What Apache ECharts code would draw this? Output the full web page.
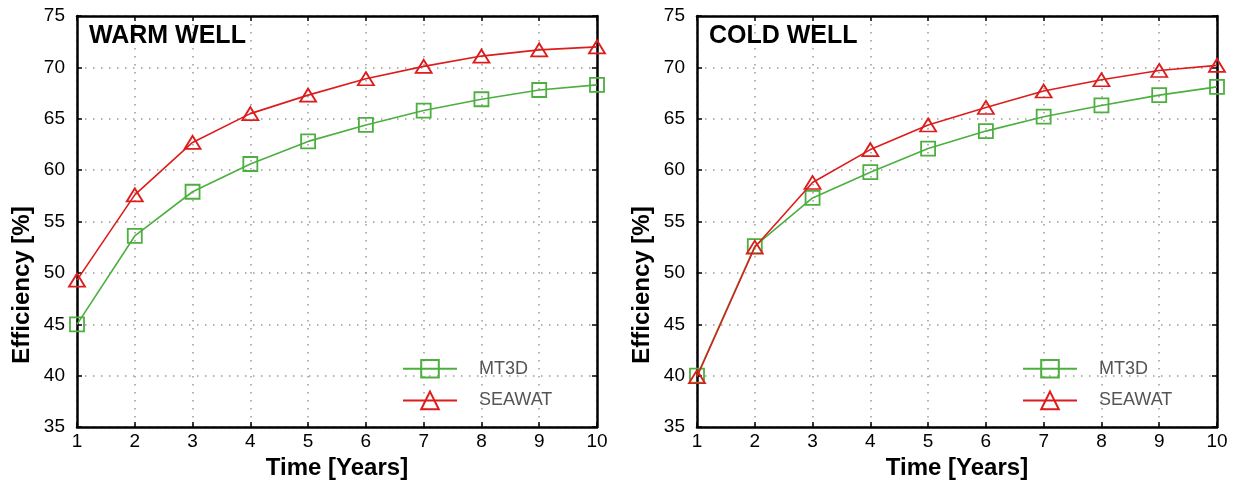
<!DOCTYPE html>
<html>
<head>
<meta charset="utf-8">
<script src="https://cdn.jsdelivr.net/npm/echarts@6/dist/echarts.min.js"></script>
<style>
    html, body { margin: 0; padding: 0; background: #fff; }
    #chart { width: 1234px; height: 485px; }
</style>
</head>
<body>
<div id="chart"></div>
<script>
// data
const years = [1, 2, 3, 4, 5, 6, 7, 8, 9, 10];
const warmMt3d = [45.0, 53.6, 57.9, 60.6, 62.8, 64.4, 65.8, 66.9, 67.8, 68.3];
const warmSeawat = [49.3, 57.6, 62.7, 65.5, 67.3, 68.9, 70.1, 71.1, 71.7, 72.0];
const coldMt3d = [40.0, 52.6, 57.3, 59.8, 62.1, 63.8, 65.2, 66.3, 67.3, 68.1];
const coldSeawat = [39.9, 52.5, 58.8, 62.0, 64.4, 66.1, 67.7, 68.8, 69.7, 70.2];
const panelTitles = ['WARM WELL', 'COLD WELL'];
const seriesNames = ['MT3D', 'SEAWAT'];

const font = 'Liberation Sans, Arial, sans-serif';
const green = '#4caf3f';
const red = '#dd1c1c';
const panels = [
    { left: 77, data: [warmMt3d, warmSeawat] },
    { left: 697, data: [coldMt3d, coldSeawat] }
];

let chart = echarts.init(document.getElementById('chart'));

let grids = [], xAxes = [], yAxes = [], series = [], titles = [], legends = [], graphics = [];

panels.forEach((p, k) => {
    grids.push({ left: p.left, top: 16, width: 520, height: 415, show: false });

    let frameLine = { show: true, onZero: false, lineStyle: { color: '#000', width: 2.5 } };
    let innerTick = { show: true, inside: true, length: 5, lineStyle: { color: '#000', width: 1.5 } };
    let dotted = { show: true, lineStyle: { color: '#9a9a9a', width: 1.5, type: [1.5, 6.5] } };

    // bottom / left: labelled axes
    xAxes.push({
        type: 'value', gridIndex: k, min: 1, max: 10, interval: 1,
        name: 'Time [Years]', nameLocation: 'middle', nameGap: 22,
        nameTextStyle: { fontFamily: font, fontWeight: 'bold', fontSize: 24, color: '#000' },
        axisLine: frameLine, axisTick: innerTick, splitLine: dotted,
        axisLabel: { color: '#000', fontSize: 19, fontFamily: font, margin: 5 }
    });
    yAxes.push({
        type: 'value', gridIndex: k, min: 35, max: 75, interval: 5,
        axisLine: frameLine, axisTick: innerTick, splitLine: dotted,
        axisLabel: { color: '#000', fontSize: 19, fontFamily: font, margin: 12 }
    });
    // top / right: frame with ticks only
    xAxes.push({
        type: 'value', gridIndex: k, min: 1, max: 10, interval: 1, position: 'top',
        axisLine: frameLine, axisTick: innerTick, splitLine: { show: false }, axisLabel: { show: false }
    });
    yAxes.push({
        type: 'value', gridIndex: k, min: 35, max: 75, interval: 5, position: 'right',
        axisLine: frameLine, axisTick: innerTick, splitLine: { show: false }, axisLabel: { show: false }
    });

    p.data.forEach((vals, s) => {
        let color = s === 0 ? green : red;
        series.push({
            name: seriesNames[s],
            type: 'line',
            xAxisIndex: k * 2,
            yAxisIndex: k * 2,
            data: years.map((x, i) => [x, vals[i]]),
            symbol: s === 0 ? 'rect' : 'triangle',
            symbolSize: s === 0 ? 14 : [16, 13],
            showAllSymbol: true,
            lineStyle: { color: color, width: 1.6 },
            itemStyle: { color: 'transparent', borderColor: color, borderWidth: 1.8 },
            emphasis: { disabled: true },
            z: 3 + s
        });
    });

    titles.push({
        text: panelTitles[k],
        left: p.left + 7,
        top: 19,
        textStyle: { fontFamily: font, fontWeight: 'bold', fontSize: 25, color: '#000' }
    });

    legends.push({
        data: seriesNames,
        orient: 'vertical',
        left: p.left + 320,
        top: 354,
        itemWidth: 54,
        itemHeight: 22,
        itemGap: 12,
        itemStyle: { color: 'transparent' },
        textStyle: { fontFamily: font, fontSize: 18, color: '#555', padding: [0, 0, 0, 17] }
    });

    graphics.push({
        type: 'text',
        x: p.left - 55,
        y: 285,
        rotation: Math.PI / 2,
        style: {
            text: 'Efficiency [%]',
            font: 'bold 24px ' + font,
            fill: '#000',
            align: 'center',
            verticalAlign: 'middle'
        }
    });
});

chart.setOption({
    animation: false,
    backgroundColor: '#fff',
    title: titles,
    legend: legends,
    grid: grids,
    xAxis: xAxes,
    yAxis: yAxes,
    series: series,
    graphic: graphics
});
</script>
</body>
</html>
